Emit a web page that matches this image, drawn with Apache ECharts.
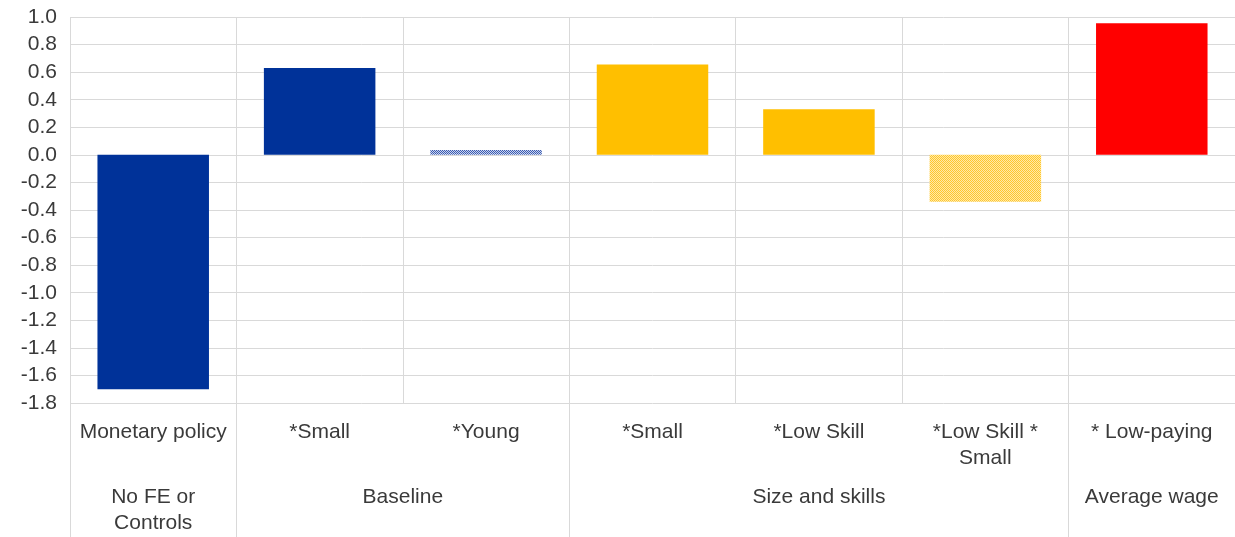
<!DOCTYPE html>
<html>
<head>
<meta charset="utf-8">
<script src="https://cdn.jsdelivr.net/npm/echarts@6/dist/echarts.min.js"></script>
<style>
html,body{margin:0;padding:0;background:#fff;}
#c{width:1235px;height:537px;}
</style>
</head>
<body>
<div id="c"></div>
<script>
// ---- data ----
const categories = ["Monetary policy", "*Small", "*Young", "*Small", "*Low Skill", "*Low Skill *\nSmall", "* Low-paying"];
const values = [-1.70, 0.63, 0.035, 0.655, 0.33, -0.34, 0.955];
const groupLabels = ["No FE or\nControls", "Baseline", "Size and skills", "Average wage"];
const groupCenters = [0.5, 2, 4.5, 6.5];
const groupBounds = [0, 1, 3, 6, 7];
const yTicksMin = -1.8, yTicksMax = 1.0, yTicksStep = 0.2;

// ---- styles ----
function pattern(c1, c2) {
  const cv = document.createElement('canvas');
  cv.width = 2; cv.height = 2;
  const ctx = cv.getContext('2d');
  ctx.fillStyle = c2; ctx.fillRect(0, 0, 2, 2);
  ctx.fillStyle = c1; ctx.fillRect(0, 0, 1, 1); ctx.fillRect(1, 1, 1, 1);
  return { image: cv, repeat: 'repeat' };
}
const BLUE = '#003299', YELLOW = '#FFBF00', RED = '#FF0000';
const barStyles = [BLUE, BLUE, pattern('#3a5bb0', '#c9d3ee'), YELLOW, YELLOW, pattern('#FFC72C', '#FFE9A8'), RED];

const textColor = '#3a3a3a';
const font = 'Liberation Sans, Arial, sans-serif';
const gridColor = '#d9d9d9';
const fs = 21;

const chart = echarts.init(document.getElementById('c'), null, { renderer: 'canvas' });
chart.setOption({
  animation: false,
  grid: { left: 70, width: 1169, top: 17, bottom: 134, containLabel: false },
  xAxis: [
    {
      type: 'category',
      data: categories,
      boundaryGap: true,
      axisLine: { show: false, onZero: false },
      axisTick: { show: false },
      splitLine: { show: true, lineStyle: { color: gridColor, width: 1 } },
      axisLabel: {
        interval: 0, margin: 16, color: textColor, fontFamily: font, fontSize: fs,
        lineHeight: 26, align: 'center', verticalAlign: 'top'
      }
    },
    {
      type: 'value',
      min: 0, max: 7,
      position: 'bottom',
      axisLine: { show: false, onZero: false },
      splitLine: { show: false },
      axisTick: {
        show: true, customValues: groupBounds, length: 134, inside: false,
        lineStyle: { color: gridColor, width: 1 }
      },
      axisLabel: {
        show: true, customValues: groupCenters, margin: 81,
        color: textColor, fontFamily: font, fontSize: fs, lineHeight: 26, verticalAlign: 'top',
        formatter: function (v) {
          const i = groupCenters.findIndex(c => Math.abs(c - v) < 1e-6);
          return i >= 0 ? groupLabels[i] : '';
        }
      }
    }
  ],
  yAxis: {
    type: 'value',
    min: yTicksMin, max: yTicksMax, interval: yTicksStep,
    axisLine: { show: false },
    axisTick: { show: false },
    splitLine: { show: true, lineStyle: { color: gridColor, width: 1 } },
    axisLabel: {
      margin: 13, color: textColor, fontFamily: font, fontSize: fs,
      formatter: function (v) { return Math.abs(v) < 1e-9 ? '0.0' : v.toFixed(1); }
    }
  },
  series: [{
    type: 'bar',
    xAxisIndex: 0,
    barCategoryGap: '33%',
    data: values.map((v, i) => ({ value: v, itemStyle: { color: barStyles[i] } }))
  }]
});
</script>
</body>
</html>
